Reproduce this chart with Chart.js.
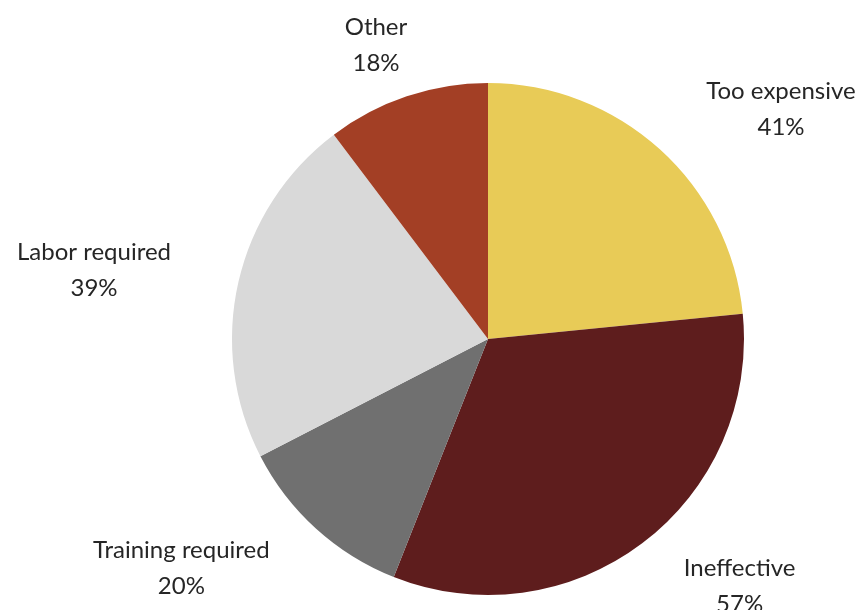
<!DOCTYPE html>
<html>
<head>
<meta charset="utf-8">
<script src="https://cdn.jsdelivr.net/npm/chart.js@4"></script>
<style>
    html, body { margin: 0; padding: 0; background: #ffffff; }
    #wrap { width: 857px; height: 610px; position: relative; }
</style>
</head>
<body>
<div id="wrap"><canvas id="pieChart"></canvas></div>
<script>
// Data
const categories = ['Too expensive', 'Ineffective', 'Training required', 'Labor required', 'Other'];
const percentValues = [41, 57, 20, 39, 18];
const sliceColors = ['#E8CB57', '#5E1D1D', '#707070', '#D9D9D9', '#A33F25'];

// Draws "Name / NN%" outside each slice, Excel style
const outsideLabels = {
    id: 'outsideLabels',
    afterDatasetsDraw(chart, args, opts) {
        const ctx = chart.ctx;
        const meta = chart.getDatasetMeta(0);
        ctx.save();
        ctx.font = opts.font;
        ctx.fillStyle = opts.color;
        ctx.textAlign = 'center';
        ctx.textBaseline = 'middle';
        meta.data.forEach((arc, i) => {
            const mid = (arc.startAngle + arc.endAngle) / 2;
            const dx = Math.cos(mid);
            const dy = Math.sin(mid);
            const lines = [categories[i], percentValues[i] + '%'];
            const w = Math.max(...lines.map(t => ctx.measureText(t).width));
            // push the text box sideways, less so near the top/bottom
            const side = Math.pow(Math.min(1, Math.abs(dx) / 0.6), 2);
            const cx = arc.x + dx * arc.outerRadius * opts.distanceX + Math.sign(dx) * (w / 2) * side;
            const cy = arc.y + dy * arc.outerRadius * opts.distanceY;
            ctx.fillText(lines[0], cx, cy - opts.lineGap / 2);
            ctx.fillText(lines[1], cx, cy + opts.lineGap / 2);
        });
        ctx.restore();
    }
};

new Chart(document.getElementById('pieChart'), {
    type: 'pie',
    data: {
        labels: categories,
        datasets: [{
            data: percentValues,
            backgroundColor: sliceColors,
            borderWidth: 0
        }]
    },
    options: {
        responsive: true,
        maintainAspectRatio: false,
        animation: false,
        layout: {
            padding: { top: 83, bottom: 15, left: 232, right: 113 }
        },
        plugins: {
            legend: { display: false },
            tooltip: { enabled: false },
            outsideLabels: {
                font: '24px Lato',
                color: '#262626',
                distanceX: 1.27,
                distanceY: 1.21,
                lineGap: 36
            }
        }
    },
    plugins: [outsideLabels]
});
</script>
</body>
</html>
